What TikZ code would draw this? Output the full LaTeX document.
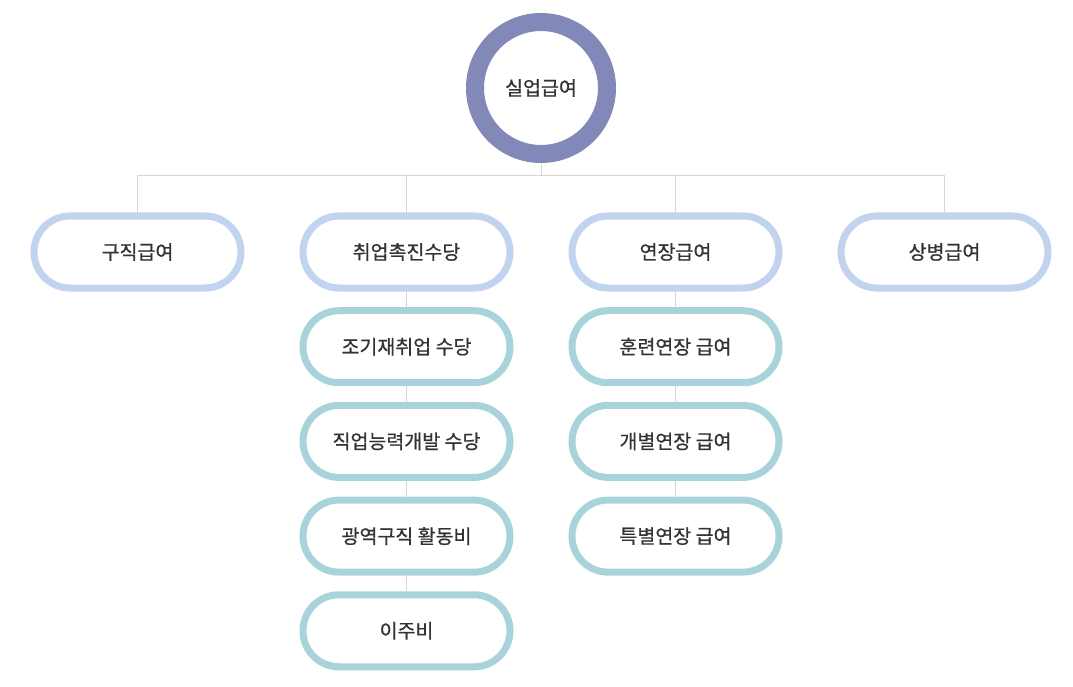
\documentclass[tikz,border=0pt]{standalone}
\usepackage{fontspec}
\setmainfont{Noto Sans CJK KR}[FakeBold=0.7]
\usetikzlibrary{positioning}
\definecolor{ringcol}{HTML}{8289B9}
\definecolor{topcol}{HTML}{C2D3F0}
\definecolor{subcol}{HTML}{A9D3DB}
\definecolor{linecol}{HTML}{D6D6D6}
\definecolor{textcol}{HTML}{333333}
\tikzset{
  benefit/.style={draw=topcol,line width=7pt,fill=white,rounded corners=35.9pt,
    minimum width=207pt,minimum height=72pt,inner sep=0pt,text=textcol,
    font=\fontsize{19.5}{22}\selectfont},
  subbenefit/.style={benefit,draw=subcol},
  rootring/.style={circle,draw=ringcol,line width=18pt,fill=white,
    minimum size=132pt,inner sep=0pt,text=textcol,font=\fontsize{19.5}{22}\selectfont},
  chainlink/.style={level distance=94.7pt,
    edge from parent path={(\tikzparentnode.south) -- (\tikzchildnode.north)}}
}

\begin{document}
\begin{tikzpicture}[grow=down,edge from parent/.style={draw=linecol,line width=1pt},
    level 1/.style={level distance=164pt,sibling distance=269pt,
      edge from parent path={(\tikzparentnode.south) -- ++(0,-13pt) -| (\tikzchildnode.north)}},
    level 2/.style={chainlink},level 3/.style={chainlink},level 4/.style={chainlink}]
		\useasboundingbox (0,0) rectangle (1073pt,-687pt);
		\node[rootring] (root) at (541pt,-88pt) {실업급여}
		child{node[benefit] (seek) {구직급여}}
		child{node[benefit] (promo) {취업촉진수당}
			child{node[subbenefit] (early) {조기재취업 수당}
				child{node[subbenefit] (skill) {직업능력개발 수당}
					child{node[subbenefit] (wide) {광역구직 활동비}
						child{node[subbenefit] (move) {이주비}}
					}
				}
			}
		}
		child{node[benefit] (ext) {연장급여}
			child{node[subbenefit] (train) {훈련연장 급여}
				child{node[subbenefit] (indiv) {개별연장 급여}
					child{node[subbenefit] (special) {특별연장 급여}}
				}
			}
		}
		child{node[benefit] (sick) {상병급여}
		};
\end{tikzpicture}
\end{document}
